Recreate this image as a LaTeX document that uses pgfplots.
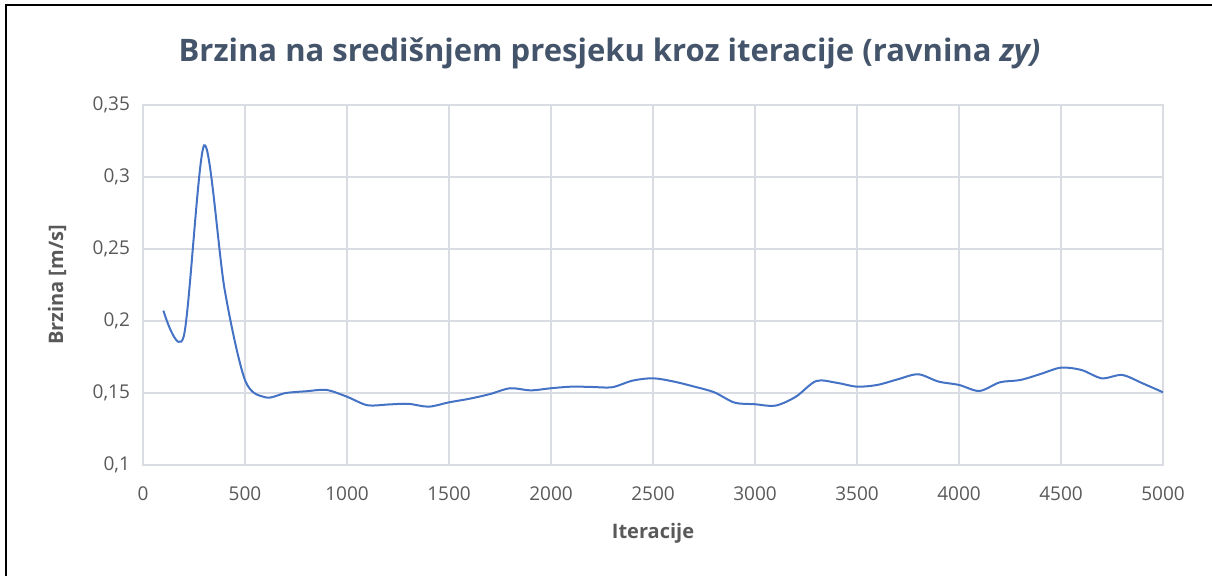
\documentclass[border=0pt]{standalone}
\usepackage{fontspec}
\setmainfont{Open Sans}
\usepackage{pgfplots}
\pgfplotsset{compat=1.18}
\definecolor{linec}{HTML}{4472C4}
\definecolor{gridc}{HTML}{D9DCE2}
\definecolor{txt}{HTML}{595959}
\definecolor{ttl}{HTML}{44546A}
\begin{document}
\begin{tikzpicture}[x=1pt,y=1pt]
\path[use as bounding box] (0,0) rectangle (606,288);
\draw[line width=1pt] (3,0) -- (3,285.25) -- (606,285.25);
\node[font=\fontsize{15.5}{18}\selectfont\bfseries, text=ttl] at (304.75,261.5) {Brzina na središnjem presjeku kroz iteracije (ravnina \textit{zy)}};
\begin{axis}[
  at={(71.5pt,55.5pt)}, anchor=south west,
  scale only axis, width=510pt, height=180pt,
  xmin=0, xmax=5000, ymin=0.1, ymax=0.35,
  xtick={0,500,...,5000},
  ytick={0.1,0.15,0.2,0.25,0.3,0.35},
  /pgf/number format/assume math mode=true,
  /pgf/number format/1000 sep={},
  yticklabel style={/pgf/number format/use comma, /pgf/number format/fixed, /pgf/number format/precision=2},
  ticklabel style={font=\fontsize{9.5}{11}\selectfont, text=txt},
  xticklabel style={yshift=-7.5pt},
  yticklabel style={xshift=-3pt},
  major tick length=0pt,
  grid=major,
  major grid style={gridc, line width=0.6pt},
  axis line style={gridc, line width=0.6pt},
  xlabel={Iteracije},
  ylabel={Brzina [m/s]},
  label style={font=\fontsize{10}{12}\selectfont\bfseries, text=txt},
  xlabel style={at={(axis description cs:0.5,-0.189)}, anchor=center},
  ylabel style={at={(axis description cs:-0.0843,0.5)}, anchor=center},
]
\addplot[linec, line width=1pt, smooth, tension=0.5] table {
x y
100 0.2072
200 0.1895
300 0.3220
400 0.2220
500 0.1590
600 0.1470
700 0.1500
800 0.1512
900 0.1521
1000 0.1474
1100 0.1415
1200 0.1420
1300 0.1425
1400 0.1405
1500 0.1435
1600 0.1460
1700 0.1492
1800 0.1533
1900 0.1518
2000 0.1533
2100 0.1544
2200 0.1542
2300 0.1540
2400 0.1586
2500 0.1602
2600 0.1580
2700 0.1545
2800 0.1505
2900 0.1433
3000 0.1422
3100 0.1412
3200 0.1474
3300 0.1583
3400 0.1571
3500 0.1544
3600 0.1556
3700 0.1595
3800 0.1630
3900 0.1579
4000 0.1556
4100 0.1514
4200 0.1574
4300 0.1590
4400 0.1632
4500 0.1676
4600 0.1660
4700 0.1602
4800 0.1625
4900 0.1567
5000 0.1505
};
\end{axis}
\end{tikzpicture}
\end{document}
